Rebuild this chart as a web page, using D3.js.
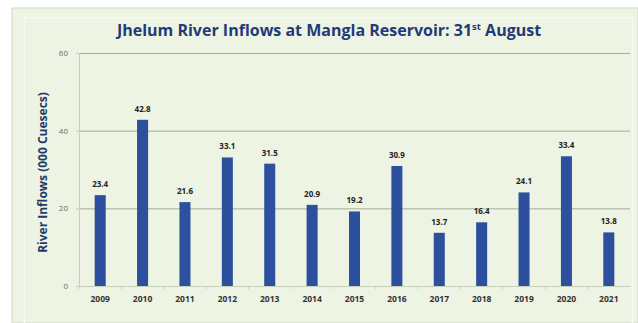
<!DOCTYPE html>
<html>
<head>
<meta charset="utf-8">
<script src="https://cdn.jsdelivr.net/npm/d3@7"></script>
<style>
  html, body { margin: 0; padding: 0; background: #ffffff; }
  svg { display: block; }
</style>
</head>
<body>
<svg id="chart" width="638" height="323"></svg>
<script>
// Jhelum River inflows at Mangla Reservoir on 31st August, by year
const years = ["2009", "2010", "2011", "2012", "2013", "2014", "2015", "2016", "2017", "2018", "2019", "2020", "2021"];
const inflows = [23.4, 42.8, 21.6, 33.1, 31.5, 20.9, 19.2, 30.9, 13.7, 16.4, 24.1, 33.4, 13.8];
const yTicks = [0, 20, 40, 60];

const svg = d3.select("#chart");
const W = 638, H = 323;
const margin = { left: 79, right: 8, top: 53, bottom: 37 };

// Chart panel background and frames
svg.append("rect").attr("x", 12).attr("y", 8).attr("width", W - 12).attr("height", H - 8)
  .attr("fill", "#edf4e3").attr("stroke", "#cfd8c6").attr("stroke-width", 1);
svg.append("rect").attr("x", 24.5).attr("y", 17.5).attr("width", W - 30).attr("height", H - 14)
  .attr("fill", "none").attr("stroke", "#f7fbf2").attr("stroke-width", 1.5);

const x = d3.scaleBand().domain(years)
  .range([margin.left, W - margin.right]).paddingInner(0.74).paddingOuter(0.37);
const y = d3.scaleLinear().domain([0, 60]).range([H - margin.bottom, margin.top]);

// Horizontal gridlines
svg.append("g").selectAll("line").data(yTicks).join("line")
  .attr("x1", margin.left).attr("x2", W - margin.right)
  .attr("y1", d => y(d) + 0.5).attr("y2", d => y(d) + 0.5)
  .attr("stroke", "#909c85").attr("stroke-width", 0.8);

// Y axis
const yAxis = svg.append("g").attr("transform", `translate(${margin.left},0)`)
  .call(d3.axisLeft(y).tickValues(yTicks).tickSize(3).tickPadding(8));
yAxis.select(".domain").attr("stroke", "#c5cfbc");
yAxis.selectAll(".tick line").attr("stroke", "#c5cfbc");
yAxis.selectAll("text").attr("font-family", "Open Sans, sans-serif").attr("font-size", 8)
  .attr("fill", "#6a6a6a");

// X axis
const step = x.step();
const xAxis = svg.append("g").attr("transform", `translate(0,${y(0)})`)
  .call(d3.axisBottom(x).tickSize(0).tickPadding(10));
xAxis.select(".domain").attr("stroke", "#c5cfbc");
xAxis.selectAll("text").attr("font-family", "Open Sans, sans-serif").attr("font-size", 8.5)
  .attr("font-weight", "bold").attr("fill", "#333333");
// small separators between categories
svg.append("g").selectAll("line").data(years).join("line")
  .attr("x1", d => x(d) - (step - x.bandwidth()) / 2).attr("x2", d => x(d) - (step - x.bandwidth()) / 2)
  .attr("y1", y(0)).attr("y2", y(0) + 3).attr("stroke", "#c5cfbc");

// Bars
svg.append("g").selectAll("rect").data(inflows).join("rect")
  .attr("x", (d, i) => x(years[i])).attr("width", x.bandwidth())
  .attr("y", d => y(d)).attr("height", d => y(0) - y(d))
  .attr("fill", "#2c4f9e");

// Value labels
svg.append("g").selectAll("text").data(inflows).join("text")
  .attr("x", (d, i) => x(years[i]) + x.bandwidth() / 2).attr("y", d => y(d) - 8)
  .attr("text-anchor", "middle")
  .attr("font-family", "Open Sans, sans-serif").attr("font-size", 8).attr("font-weight", "bold")
  .attr("fill", "#222222")
  .text(d => d.toFixed(1));

// Title
const title = svg.append("text").attr("x", 329).attr("y", 36).attr("text-anchor", "middle")
  .attr("font-family", "Open Sans, sans-serif").attr("font-size", 16).attr("font-weight", "bold")
  .attr("fill", "#1f3a78");
title.append("tspan").text("Jhelum River Inflows at Mangla Reservoir: 31");
title.append("tspan").attr("font-size", 9.5).attr("dy", -6).text("st");
title.append("tspan").attr("dy", 6).text(" August");

// Y axis title
svg.append("text")
  .attr("transform", `translate(47,${(y(0) + y(60)) / 2 + 3}) rotate(-90)`)
  .attr("text-anchor", "middle")
  .attr("font-family", "Open Sans, sans-serif").attr("font-size", 12).attr("font-weight", "bold")
  .attr("fill", "#243a66")
  .text("River Inflows (000 Cuesecs)");
</script>
</body>
</html>
